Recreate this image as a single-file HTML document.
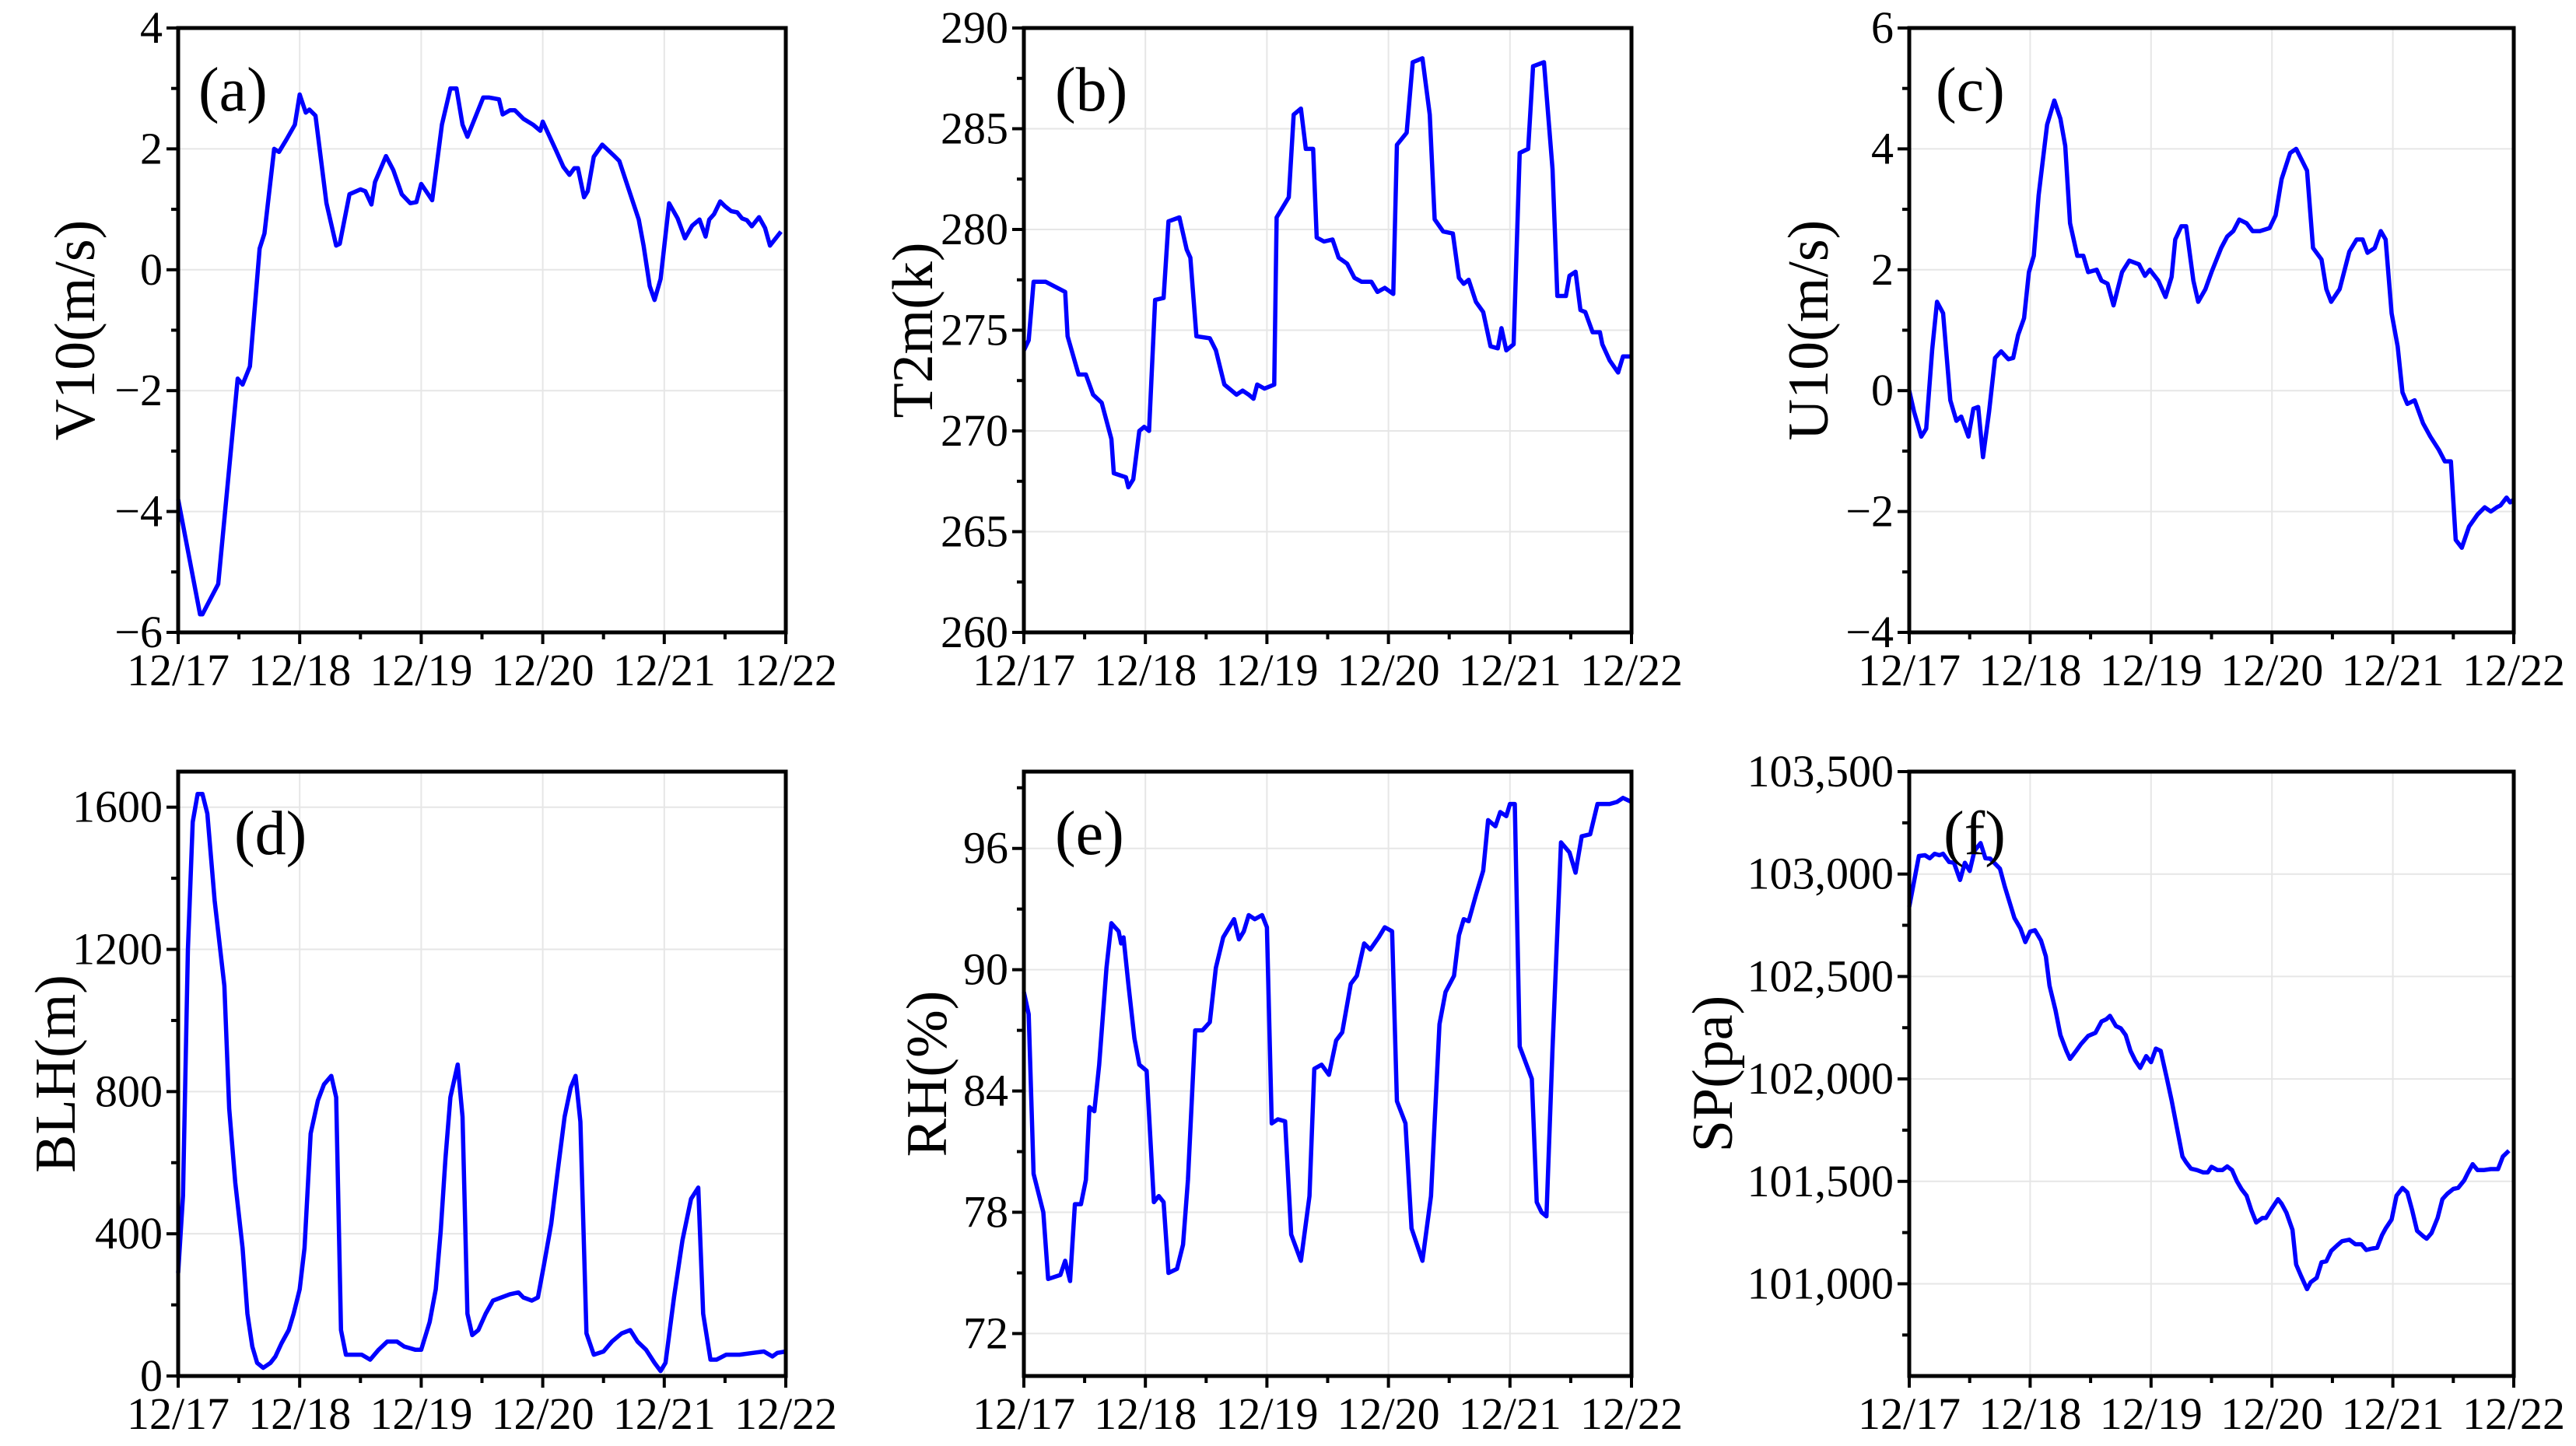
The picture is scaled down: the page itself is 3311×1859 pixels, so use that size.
<!DOCTYPE html>
<html><head><meta charset="utf-8">
<style>
html,body{margin:0;padding:0;background:#fff;}
svg{display:block;}
text{font-family:"Liberation Serif","Times New Roman",serif;}
</style></head>
<body>
<svg id="fig" width="3311" height="1859" viewBox="0 0 3311 1859" xmlns="http://www.w3.org/2000/svg"></svg>
<script>
const dateTicks = ["12/17","12/18","12/19","12/20","12/21","12/22"];

const tA = [0,0.18,0.2,0.33,0.49,0.53,0.59,0.67,0.71,0.79,0.83,0.89,0.96,1.0,1.05,1.08,1.13,1.22,1.3,1.33,1.41,1.5,1.54,1.59,1.62,1.71,1.77,1.84,1.91,1.96,2.0,2.09,2.17,2.24,2.29,2.34,2.38,2.51,2.56,2.64,2.67,2.73,2.77,2.84,2.92,2.98,3.0,3.11,3.17,3.22,3.26,3.29,3.34,3.37,3.42,3.49,3.58,3.63,3.79,3.83,3.88,3.92,3.97,4.04,4.11,4.17,4.23,4.29,4.34,4.37,4.41,4.46,4.5,4.55,4.6,4.64,4.68,4.72,4.78,4.83,4.87,4.96];
const vA = [-3.8,-5.7,-5.7,-5.2,-1.8,-1.9,-1.6,0.35,0.6,2.0,1.95,2.15,2.4,2.9,2.6,2.65,2.55,1.1,0.4,0.43,1.25,1.33,1.3,1.08,1.45,1.88,1.65,1.25,1.1,1.12,1.42,1.15,2.4,3.0,3.0,2.4,2.2,2.85,2.85,2.82,2.57,2.64,2.64,2.5,2.4,2.3,2.45,1.97,1.7,1.57,1.68,1.68,1.2,1.3,1.87,2.07,1.9,1.8,0.83,0.4,-0.27,-0.5,-0.15,1.1,0.85,0.52,0.73,0.83,0.55,0.83,0.92,1.13,1.05,0.97,0.95,0.85,0.82,0.72,0.87,0.69,0.4,0.63];

const tB = [0,0.04,0.08,0.18,0.34,0.36,0.45,0.51,0.57,0.64,0.72,0.74,0.84,0.86,0.9,0.95,0.99,1.03,1.08,1.15,1.19,1.28,1.34,1.37,1.42,1.53,1.58,1.65,1.75,1.8,1.85,1.89,1.92,1.98,2.06,2.08,2.18,2.22,2.28,2.32,2.38,2.41,2.47,2.54,2.59,2.66,2.72,2.78,2.86,2.91,2.97,3.04,3.07,3.15,3.2,3.28,3.34,3.38,3.45,3.53,3.58,3.62,3.66,3.72,3.78,3.84,3.9,3.93,3.97,4.03,4.08,4.15,4.19,4.28,4.35,4.39,4.46,4.49,4.54,4.58,4.62,4.68,4.74,4.76,4.82,4.89,4.93,5.0];
const vB = [274,274.5,277.4,277.4,276.9,274.7,272.8,272.8,271.8,271.4,269.6,267.9,267.7,267.2,267.6,270,270.2,270,276.5,276.6,280.4,280.6,279,278.6,274.7,274.6,274,272.3,271.8,272,271.8,271.6,272.3,272.1,272.3,280.6,281.6,285.7,286,284,284,279.6,279.4,279.5,278.6,278.3,277.6,277.4,277.4,276.9,277.1,276.8,284.2,284.8,288.3,288.5,285.7,280.5,279.9,279.8,277.6,277.3,277.5,276.4,275.9,274.2,274.1,275.1,274,274.3,283.8,284,288.1,288.3,283,276.7,276.7,277.7,277.9,276,275.9,274.9,274.9,274.3,273.5,272.9,273.7,273.7];

const tC = [0,0.04,0.1,0.14,0.19,0.23,0.28,0.34,0.39,0.43,0.49,0.53,0.57,0.61,0.66,0.71,0.76,0.82,0.86,0.9,0.95,0.99,1.03,1.07,1.14,1.2,1.25,1.29,1.33,1.39,1.44,1.48,1.55,1.59,1.64,1.69,1.76,1.82,1.9,1.95,1.99,2.06,2.12,2.17,2.2,2.25,2.29,2.35,2.39,2.45,2.5,2.58,2.63,2.68,2.73,2.79,2.84,2.9,2.98,3.03,3.08,3.15,3.2,3.29,3.34,3.41,3.45,3.49,3.56,3.64,3.7,3.75,3.79,3.85,3.9,3.94,3.99,4.04,4.08,4.12,4.18,4.25,4.31,4.38,4.43,4.48,4.52,4.57,4.63,4.7,4.76,4.81,4.86,4.89,4.94,4.97,5.0];
const vC = [0,-0.35,-0.76,-0.63,0.68,1.47,1.28,-0.16,-0.5,-0.43,-0.76,-0.3,-0.27,-1.1,-0.35,0.54,0.65,0.52,0.54,0.92,1.2,1.96,2.23,3.23,4.4,4.8,4.5,4.05,2.77,2.23,2.23,1.96,2.0,1.82,1.77,1.41,1.96,2.15,2.09,1.9,2.0,1.82,1.55,1.88,2.5,2.72,2.72,1.82,1.47,1.68,1.96,2.36,2.55,2.64,2.83,2.77,2.64,2.64,2.69,2.9,3.5,3.93,4.0,3.64,2.36,2.17,1.68,1.47,1.68,2.3,2.5,2.5,2.28,2.36,2.64,2.5,1.28,0.73,-0.03,-0.22,-0.16,-0.54,-0.76,-0.98,-1.17,-1.17,-2.47,-2.6,-2.25,-2.05,-1.93,-2.0,-1.93,-1.9,-1.77,-1.85,-1.8];

const tD = [0,0.04,0.08,0.12,0.16,0.2,0.24,0.3,0.38,0.42,0.47,0.53,0.57,0.61,0.65,0.7,0.76,0.8,0.85,0.91,0.95,1.0,1.04,1.09,1.15,1.2,1.26,1.3,1.34,1.38,1.44,1.51,1.58,1.65,1.72,1.8,1.86,1.95,2.0,2.07,2.12,2.16,2.2,2.24,2.3,2.34,2.38,2.42,2.47,2.53,2.59,2.66,2.73,2.8,2.84,2.91,2.96,3.01,3.07,3.12,3.18,3.23,3.27,3.31,3.36,3.42,3.5,3.57,3.65,3.72,3.78,3.85,3.92,3.97,4.01,4.08,4.15,4.22,4.28,4.32,4.38,4.43,4.51,4.62,4.73,4.82,4.89,4.93,5.0];
const vD = [290,507,1199,1558,1637,1637,1582,1337,1097,752,544,360,175,83,37,23,37,55,92,129,175,244,360,682,775,820,844,784,129,60,60,60,46,74,97,97,83,74,74,152,244,406,613,784,876,729,175,115,129,175,212,221,230,235,221,212,221,313,428,567,729,811,844,715,120,60,69,97,120,129,97,74,37,14,37,221,382,498,530,175,46,46,60,60,65,69,55,65,69];

const tE = [0,0.04,0.08,0.16,0.2,0.3,0.34,0.38,0.42,0.47,0.51,0.54,0.58,0.62,0.68,0.72,0.78,0.8,0.82,0.86,0.91,0.95,1.01,1.07,1.11,1.15,1.19,1.26,1.31,1.35,1.41,1.47,1.53,1.58,1.64,1.69,1.73,1.77,1.81,1.85,1.9,1.96,2.0,2.04,2.09,2.15,2.2,2.28,2.35,2.39,2.45,2.51,2.57,2.62,2.69,2.74,2.8,2.85,2.92,2.97,3.03,3.07,3.14,3.19,3.28,3.35,3.42,3.47,3.54,3.58,3.62,3.66,3.72,3.78,3.82,3.88,3.92,3.97,4.0,4.04,4.08,4.18,4.22,4.26,4.3,4.35,4.42,4.49,4.54,4.59,4.66,4.72,4.77,4.82,4.88,4.93,5.0];
const vE = [88.9,87.8,79.9,78.0,74.7,74.9,75.6,74.6,78.4,78.4,79.6,83.2,83,85.3,90.1,92.3,91.9,91.3,91.6,89.3,86.6,85.3,85,78.5,78.8,78.5,75,75.2,76.4,79.6,87,87,87.4,90.1,91.6,92.1,92.5,91.5,91.9,92.7,92.5,92.7,92.1,82.4,82.6,82.5,76.9,75.6,78.8,85.1,85.3,84.8,86.5,86.9,89.3,89.7,91.3,91,91.6,92.1,91.9,83.5,82.4,77.2,75.6,78.8,87.3,88.9,89.7,91.7,92.5,92.4,93.7,94.9,97.4,97.1,97.8,97.6,98.2,98.2,86.2,84.6,78.5,78,77.8,86.1,96.3,95.8,94.8,96.6,96.7,98.2,98.2,98.2,98.3,98.5,98.3];

const tF = [0,0.08,0.13,0.17,0.21,0.25,0.28,0.33,0.37,0.42,0.46,0.5,0.54,0.59,0.63,0.67,0.75,0.79,0.87,0.92,0.96,1.0,1.04,1.09,1.13,1.16,1.21,1.25,1.3,1.33,1.38,1.42,1.48,1.54,1.59,1.63,1.66,1.71,1.75,1.79,1.83,1.87,1.91,1.96,2.0,2.04,2.08,2.13,2.17,2.22,2.26,2.29,2.33,2.38,2.43,2.47,2.5,2.55,2.59,2.63,2.67,2.71,2.75,2.79,2.83,2.87,2.92,2.95,3.0,3.05,3.08,3.12,3.17,3.2,3.24,3.29,3.32,3.37,3.41,3.45,3.49,3.54,3.58,3.64,3.69,3.74,3.78,3.82,3.87,3.91,3.94,3.99,4.03,4.08,4.12,4.16,4.2,4.25,4.28,4.32,4.37,4.41,4.45,4.5,4.54,4.59,4.62,4.66,4.7,4.75,4.81,4.87,4.91,4.96];
const vF = [102840,103088,103092,103077,103099,103092,103099,103059,103055,102971,103055,103015,103114,103151,103077,103075,103026,102939,102785,102734,102668,102719,102726,102675,102598,102455,102335,102214,102137,102098,102137,102170,102210,102225,102280,102291,102308,102258,102247,102214,102137,102089,102054,102111,102082,102148,102137,102005,101896,101742,101621,101593,101562,101555,101544,101544,101571,101555,101555,101573,101555,101501,101461,101430,101358,101299,101321,101321,101369,101413,101391,101347,101263,101094,101039,100974,101007,101029,101105,101110,101160,101188,101208,101215,101193,101193,101165,101171,101176,101237,101270,101314,101430,101468,101446,101358,101259,101233,101220,101248,101321,101413,101439,101463,101468,101505,101540,101584,101555,101555,101560,101560,101621,101650];

const ticksA = [-6,-4,-2,0,2,4];
const ticksB = [260,265,270,275,280,285,290];
const ticksC = [-4,-2,0,2,4,6];
const ticksD = [0,400,800,1200,1600];
const ticksE = [72,78,84,90,96];
const ticksF = [101000,101500,102000,102500,103000,103500];
const labelsF = ["101,000","101,500","102,000","102,500","103,000","103,500"];

const NS = "http://www.w3.org/2000/svg";
const svg = document.getElementById('fig');
const FONT = '"Liberation Serif", "Times New Roman", serif';
function mk(tag, attrs, parent){
  const e = document.createElementNS(NS, tag);
  for (const k in attrs) e.setAttribute(k, attrs[k]);
  if (tag === 'text') e.setAttribute('font-family', FONT);
  (parent||svg).appendChild(e);
  return e;
}

const panels = [
  {id:'a', L:229, R:1010, T:36, B:813, ymin:-6, ymax:4, ticks:ticksA, labels:null, minor:1, t:tA, v:vA, title:'V10(m/s)', tx:95, letter:'(a)', lx:26},
  {id:'b', L:1316, R:2097, T:36, B:813, ymin:260, ymax:290, ticks:ticksB, labels:null, minor:2.5, t:tB, v:vB, title:'T2m(k)', tx:1172, letter:'(b)', lx:40},
  {id:'c', L:2454, R:3231, T:36, B:813, ymin:-4, ymax:6, ticks:ticksC, labels:null, minor:1, t:tC, v:vC, title:'U10(m/s)', tx:2323, letter:'(c)', lx:34},
  {id:'d', L:229, R:1010, T:992, B:1769, ymin:0, ymax:1700, ticks:ticksD, labels:null, minor:200, t:tD, v:vD, title:'BLH(m)', tx:70, letter:'(d)', lx:72},
  {id:'e', L:1316, R:2097, T:992, B:1769, ymin:69.9, ymax:99.8, ticks:ticksE, labels:null, minor:3, t:tE, v:vE, title:'RH(%)', tx:1190, letter:'(e)', lx:40},
  {id:'f', L:2454, R:3231, T:992, B:1769, ymin:100550, ymax:103500, ticks:ticksF, labels:labelsF, minor:250, t:tF, v:vF, title:'SP(pa)', tx:2200, letter:'(f)', lx:44}
];

panels.forEach(p => {
  const g = mk('g', {});
  
  
  const xs = t => p.L + (t/5)*(p.R-p.L);
  const ys = v => p.B - (v-p.ymin)/(p.ymax-p.ymin)*(p.B-p.T);
  for (let i=1;i<5;i++){
    const gl = mk('line',{x1:xs(i),x2:xs(i),y1:p.T,y2:p.B,stroke:'#e6e6e6','stroke-width':2},g);
    
    
  }
  p.ticks.forEach(tv => {
    const gl = mk('line',{x1:p.L,x2:p.R,y1:ys(tv),y2:ys(tv),stroke:'#e6e6e6','stroke-width':2},g);
    
    
  });
  for (let mv = Math.ceil(p.ymin/p.minor)*p.minor; mv <= p.ymax+1e-9; mv += p.minor){
    const isMajor = p.ticks.some(t => Math.abs(t-mv) < 1e-6);
    const len = isMajor ? 15 : 9;
    const tk = mk('line',{x1:p.L-len,x2:p.L,y1:ys(mv),y2:ys(mv),stroke:'#000','stroke-width':4},g);
    
    
  }
  p.ticks.forEach((tv,i) => {
    const tl = mk('text',{x:p.L-20,y:ys(tv)+19,'text-anchor':'end','font-size':58,fill:'#000'},g);
    tl.textContent = p.labels ? p.labels[i] : (tv<0 ? '\u2212'+Math.abs(tv) : String(tv));
    
    
  });
  for (let k=0;k<=10;k++){
    const t = k/2, major = k%2===0, len = major?15:9;
    const tk = mk('line',{x1:xs(t),x2:xs(t),y1:p.B,y2:p.B+len,stroke:'#000','stroke-width':4},g);
    
    
  }
  dateTicks.forEach((d,i) => {
    const tl = mk('text',{x:xs(i),y:p.B+68,'text-anchor':'middle','font-size':58,fill:'#000'},g);
    tl.textContent = d;
    
    
  });
  const pts = p.t.map((t,i) => xs(t).toFixed(1)+','+ys(p.v[i]).toFixed(1)).join(' ');
  const line = mk('polyline',{points:pts,fill:'none',stroke:'#0000ff','stroke-width':5.5,'stroke-linejoin':'round'},g);
  
  
  const fr = mk('rect',{x:p.L,y:p.T,width:p.R-p.L,height:p.B-p.T,fill:'none',stroke:'#000','stroke-width':5},g);
  
  
  const cy = (p.T+p.B)/2;
  const yt = mk('text',{x:p.tx,y:cy,'text-anchor':'middle','font-size':74,fill:'#000',transform:'rotate(-90 '+p.tx+' '+cy+') translate(0 26)'},g);
  yt.textContent = p.title;
  
  
  const lt = mk('text',{x:p.L+p.lx,y:p.T+106,'font-size':80,fill:'#000'},g);
  lt.textContent = p.letter;
  
  
});
</script>
</body></html>
